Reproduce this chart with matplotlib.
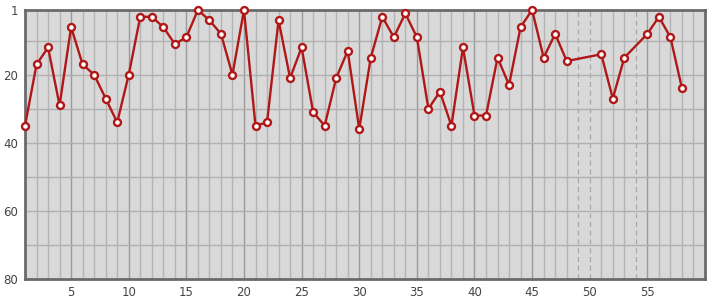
import matplotlib
matplotlib.use("Agg")
import matplotlib.pyplot as plt

# positions held in the ranking (lower is better), missing rounds skipped
rounds = [1, 2, 3, 4, 5, 6, 7, 8, 9, 10,
          11, 12, 13, 14, 15, 16, 17, 18, 19, 20,
          21, 22, 23, 24, 25, 26, 27, 28, 29, 30,
          31, 32, 33, 34, 35, 36, 37, 38, 39, 40,
          41, 42, 43, 44, 45, 46, 47, 48,
          51, 52, 53, 55, 56, 57, 58]
positions = [35, 17, 12, 29, 6, 17, 20, 27, 34, 20,
             3, 3, 6, 11, 9, 1, 4, 8, 20, 1,
             35, 34, 4, 21, 12, 31, 35, 21, 13, 36,
             15, 3, 9, 2, 9, 30, 25, 35, 12, 32,
             32, 15, 23, 6, 1, 15, 8, 16,
             14, 27, 15, 8, 3, 9, 24]
missing_rounds = [49, 50, 54]
y_ticks = [1, 20, 40, 60, 80]
x_ticks = [5, 10, 15, 20, 25, 30, 35, 40, 45, 50, 55]

fig = plt.figure(figsize=(7.15, 3.0), dpi=100)
ax = fig.add_axes([25 / 715, 21 / 300, 680 / 715, 269 / 300])
ax.set_facecolor("#d9d9d9")

# grid drawn by hand: every round, darker every 5, dashed where no data
for x in range(2, 60):
    if x in missing_rounds:
        ax.axvline(x, color="#a8a8a8", lw=0.9, ls=(0, (4, 3)), zorder=1)
    elif x % 5 == 0:
        ax.axvline(x, color="#9a9a9a", lw=1.0, zorder=1)
    else:
        ax.axvline(x, color="#b4b4b4", lw=1.0, zorder=1)
for y in range(10, 80, 10):
    ax.axhline(y, color="#b0b0b0", lw=1.0, zorder=1)

ax.plot(rounds, positions, color="#b01818", lw=1.7, zorder=3,
        marker="o", ms=5, mfc="white", mec="#b01818", mew=1.7,
        clip_on=False)

ax.set_xlim(1, 60)
ax.set_ylim(80, 1)
ax.set_yticks(y_ticks)
ax.set_xticks(x_ticks)
ax.tick_params(length=0, labelsize=8.5, colors="#444444", pad=5)
for side in ["left", "bottom", "top", "right"]:
    ax.spines[side].set_color("#6a6a6a")
    ax.spines[side].set_linewidth(2.0)

fig.savefig("out.png", dpi=100)
